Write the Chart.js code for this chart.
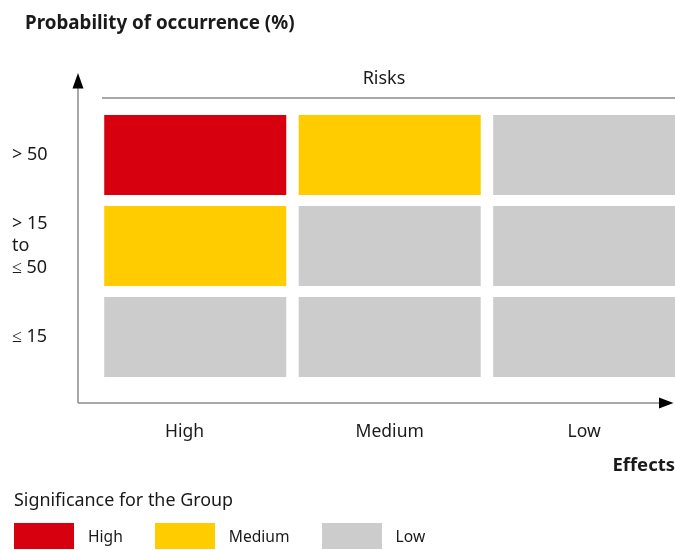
<!DOCTYPE html>
<html>
<head>
<meta charset="utf-8">
<script src="https://cdn.jsdelivr.net/npm/chart.js@4.4.1/dist/chart.umd.min.js"></script>
<style>
  body { margin: 0; width: 675px; height: 550px; position: relative; background: #fff; font-family: "Noto Sans", sans-serif; color: #1a1a1a; overflow: hidden; }
  #wrap { position: absolute; left: 0; top: 0; width: 675px; height: 550px; }
  #title { position: absolute; left: 25px; top: 12px; font-size: 18.8px; font-weight: bold; line-height: 20px; white-space: nowrap; }
  #legendTitle { position: absolute; left: 14px; top: 490px; font-size: 17.9px; line-height: 18px; white-space: nowrap; }
  #legend { position: absolute; left: 14px; top: 523px; display: flex; align-items: center; }
  .item { display: flex; align-items: center; margin-right: 32px; font-size: 15.6px; }
  .box { width: 60px; height: 26px; margin-right: 14px; }
</style>
</head>
<body>
<div id="wrap"><canvas id="riskChart"></canvas></div>
<div id="title">Probability of occurrence (%)</div>
<div id="legendTitle">Significance for the Group</div>
<div id="legend"></div>

<script>
// ejes de la matriz
const effects = ['High', 'Medium', 'Low'];
const probabilities = ['> 50', '> 15 to ≤ 50', '≤ 15'];
const probabilityTicks = [['> 50'], ['> 15', 'to', '≤ 50'], ['≤ 15']];

// significancia de cada celda (fila = probabilidad, columna = efecto)
const significance = [
  ['High', 'Medium', 'Low'],
  ['Medium', 'Low', 'Low'],
  ['Low', 'Low', 'Low']
];
const levels = ['High', 'Medium', 'Low'];
const levelColors = ['#d7000f', '#ffcc00', '#cccccc'];

const gap = 0.032;

// un dataset por nivel, con las celdas que le corresponden
const datasets = levels.map((level, k) => {
  const cells = [];
  significance.forEach((row, r) => {
    row.forEach((s, c) => {
      if (s === level) cells.push({ y: probabilities[r], x: [c + gap, c + 1 - gap] });
    });
  });
  return {
    label: level,
    data: cells,
    backgroundColor: levelColors[k],
    borderWidth: 0,
    grouped: false,
    categoryPercentage: 1,
    barPercentage: 0.88
  };
});

// flechas de los ejes y la linea de "Risks"
const axesPlugin = {
  id: 'axesPlugin',
  afterDraw(chart) {
    const { ctx, chartArea: a } = chart;
    const x0 = a.left - 20;
    const y0 = a.bottom + 20.5;
    ctx.save();
    ctx.strokeStyle = '#8c8c8c';
    ctx.lineWidth = 1.5;
    ctx.beginPath();
    ctx.moveTo(x0, y0);
    ctx.lineTo(x0, 86);
    ctx.moveTo(x0, y0);
    ctx.lineTo(661, y0);
    ctx.moveTo(a.left + 4, a.top - 11.5);
    ctx.lineTo(a.right, a.top - 11.5);
    ctx.stroke();

    ctx.fillStyle = '#000';
    ctx.beginPath();
    ctx.moveTo(x0, 73);
    ctx.lineTo(x0 - 5.5, 88.5);
    ctx.lineTo(x0 + 5.5, 88.5);
    ctx.closePath();
    ctx.fill();
    ctx.beginPath();
    ctx.moveTo(673.5, y0);
    ctx.lineTo(659, y0 - 5.5);
    ctx.lineTo(659, y0 + 5.5);
    ctx.closePath();
    ctx.fill();

    ctx.fillStyle = '#1a1a1a';
    ctx.font = '18px "Noto Sans"';
    ctx.textAlign = 'center';
    ctx.textBaseline = 'middle';
    ctx.fillText('Risks', 384, a.top - 31);
    ctx.restore();
  }
};

const ctx = document.getElementById('riskChart').getContext('2d');
const riskChart = new Chart(ctx, {
  type: 'bar',
  data: {
    labels: probabilities,
    datasets: datasets
  },
  options: {
    indexAxis: 'y',
    responsive: true,
    maintainAspectRatio: false,
    animation: false,
    layout: { padding: { left: 12, right: 0, top: 109.5, bottom: 69.6 } },
    plugins: {
      legend: { display: false },
      tooltip: { enabled: false }
    },
    scales: {
      x: {
        type: 'linear',
        min: 0,
        max: 2.967,
        // la etiqueta "High" del original esta algo corrida a la izquierda
        afterBuildTicks: (scale) => {
          scale.ticks = [0.445, 1.5, 2.5].map(v => ({ value: v }));
        },
        afterFit: (scale) => { scale.height = 98; },
        grid: { display: false, drawTicks: false },
        border: { display: false },
        ticks: {
          padding: 39,
          color: '#1a1a1a',
          font: { family: 'Noto Sans', size: 17.5 },
          callback: (v, i) => effects[i]
        },
        title: {
          display: true,
          text: 'Effects',
          align: 'end',
          color: '#1a1a1a',
          font: { family: 'Noto Sans', size: 18.5, weight: 'bold' },
          padding: { top: 11, bottom: 4 }
        }
      },
      y: {
        type: 'category',
        afterFit: (scale) => { scale.width = 86; },
        grid: { display: false, drawTicks: false },
        border: { display: false },
        ticks: {
          crossAlign: 'far',
          color: '#1a1a1a',
          font: { family: 'Noto Sans', size: 18, lineHeight: 1.2 },
          callback: (v, i) => probabilityTicks[i]
        }
      }
    }
  },
  plugins: [axesPlugin]
});

// leyenda armada con los colores de los datasets
const legendEl = document.getElementById('legend');
riskChart.data.datasets.forEach(ds => {
  const item = document.createElement('div');
  item.className = 'item';
  item.innerHTML = '<span class="box" style="background:' + ds.backgroundColor + '"></span>' + ds.label;
  legendEl.appendChild(item);
});
</script>
</body>
</html>
